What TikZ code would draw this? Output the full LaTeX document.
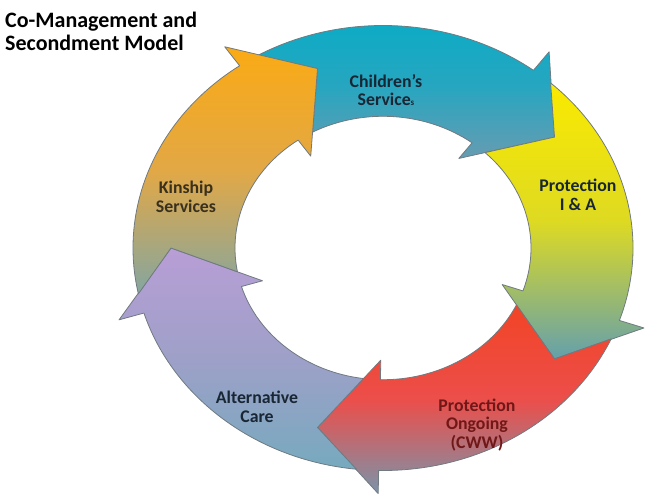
\documentclass[tikz,border=0pt]{standalone}
\usepackage{fontspec}
\setmainfont{Carlito}

\definecolor{ringline}{RGB}{112,122,128}
\definecolor{tagdark}{RGB}{25,38,52}
\definecolor{tagred}{RGB}{112,24,24}
\definecolor{tagbrown}{RGB}{58,48,30}

\begin{document}
\begin{tikzpicture}[x=1pt, y=1pt]

% Fix the page size
\useasboundingbox (0,0) rectangle (645,501);

% Define styles for the ring arrows and their labels
\tikzstyle{ring} = [draw=ringline, line width=0.8pt, line join=round]
\tikzstyle{tag} = [font=\fontsize{17.8}{18.8}\selectfont\bfseries, align=center, inner sep=0pt, text=tagdark]

% Builds the ring clockwise, each tail sits in the notch of the head before it
\begin{scope}[shift={(383,253)}, yscale=0.89]
    % Children's Services
    \draw[ring, top color={rgb,255:red,8;green,172;blue,198}, bottom color={rgb,255:red,102;green,156;blue,178},
          middle color={rgb,255:red,38;green,166;blue,192}]
        (119.9:250) arc[start angle=119.9, end angle=53, radius=250]
        -- (53:276) -- (36:212) -- (53:126)
        -- (53:148) arc[start angle=53, end angle=118.4, radius=148]
        -- (108:212) -- cycle;
    % Protection I & A
    \draw[ring, top color={rgb,255:red,250;green,234;blue,0}, bottom color={rgb,255:red,100;green,160;blue,172},
          middle color={rgb,255:red,222;green,218;blue,34}]
        (47.9:250) arc[start angle=47.9, end angle=-19, radius=250]
        -- (-19:276) -- (-36:212) -- (-19:126)
        -- (-19:148) arc[start angle=-19, end angle=46.4, radius=148]
        -- (36:212) -- cycle;
    % Protection Ongoing
    \draw[ring, top color={rgb,255:red,242;green,68;blue,38}, bottom color={rgb,255:red,122;green,148;blue,170},
          middle color={rgb,255:red,236;green,78;blue,74}]
        (-24.1:250) arc[start angle=-24.1, end angle=-91, radius=250]
        -- (-91:276) -- (-108:212) -- (-91:126)
        -- (-91:148) arc[start angle=-91, end angle=-25.6, radius=148]
        -- (-36:212) -- cycle;
    % Alternative Care
    \draw[ring, top color={rgb,255:red,184;green,158;blue,214}, bottom color={rgb,255:red,118;green,170;blue,190},
          middle color={rgb,255:red,158;green,160;blue,200}]
        (-96.1:250) arc[start angle=-96.1, end angle=-163, radius=250]
        -- (-163:276) -- (-180:212) -- (-163:126)
        -- (-163:148) arc[start angle=-163, end angle=-97.6, radius=148]
        -- (-108:212) -- cycle;
    % Kinship Services
    \draw[ring, top color={rgb,255:red,250;green,170;blue,20}, bottom color={rgb,255:red,132;green,166;blue,160},
          middle color={rgb,255:red,226;green,168;blue,70}]
        (191.9:250) arc[start angle=191.9, end angle=125, radius=250]
        -- (125:276) -- (108:212) -- (125:126)
        -- (125:148) arc[start angle=125, end angle=190.4, radius=148]
        -- (180:212) -- cycle;
\end{scope}

% Labels on the arrows
\node[tag] (kids) at (386,411) {Children's\\Service{\fontsize{9}{9}\selectfont s}};
\node[tag] (intake) at (578,306) {Protection\\I \& A};
\node[tag, text=tagred] (ongoing) at (477,76) {Protection\\Ongoing\\(CWW)};
\node[tag] (altcare) at (257,94) {Alternative\\Care};
\node[tag, text=tagbrown] (kinship) at (186,304) {Kinship\\Services};

% Heading
\node[anchor=north west, inner sep=0pt, align=left, font=\fontsize{22}{22.5}\selectfont\bfseries]
    (title) at (5,489) {Co-Management and\\Secondment Model};

\end{tikzpicture}
\end{document}
